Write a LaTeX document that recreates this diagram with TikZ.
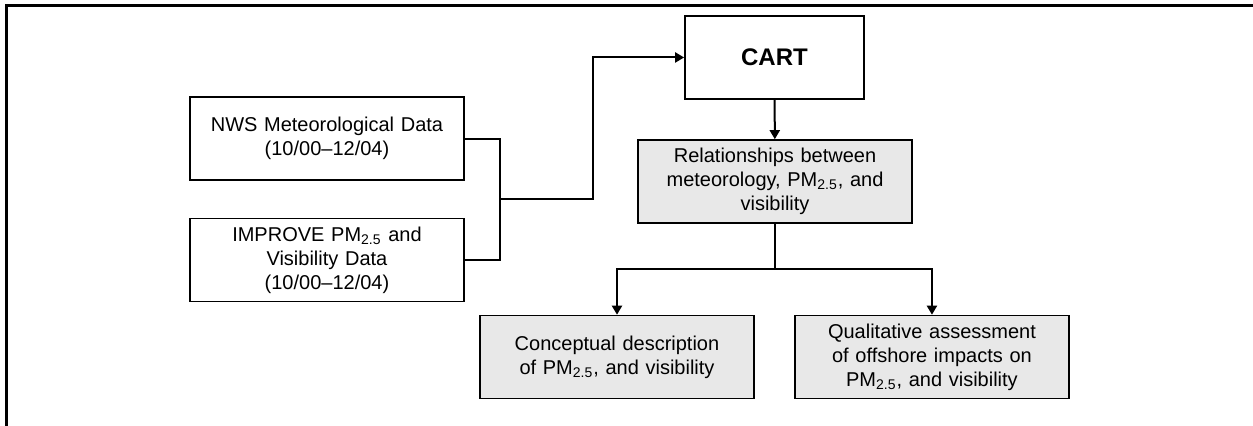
\documentclass[tikz,border=0pt]{standalone}
\usepackage{fontspec}
\setmainfont{Liberation Sans}
\usepackage{tikz}
\usetikzlibrary{arrows.meta,positioning,calc}
\newcommand{\pmtf}{PM\textsubscript{2.5}}

\begin{document}
\begin{tikzpicture}[
  font=\fontsize{10}{12}\selectfont,
  datab/.style={draw, line width=0.8pt, align=center, text width=4.6cm, minimum width=4.815cm, minimum height=1.459cm, inner sep=0pt},
  resb/.style={datab, fill=gray!18},
  link/.style={line width=1pt},
  arr/.style={line width=1pt, -{Triangle[length=4.5pt, width=5pt]}}]
  \useasboundingbox (0,0) rectangle (22.02,-7.486);
  % frame
  \draw[line width=1.3pt] (0.114,-7.6) -- (0.114,-0.097) -- (22.1,-0.097);
  % input data
  \node[datab] (nws) at (5.746,-2.434) {NWS Meteorological Data\\(10/00--12/04)};
  \node[datab] (imp) at (5.746,-4.569) {IMPROVE \pmtf{} and\\Visibility Data\\(10/00--12/04)};
  % CART and results
  \node[datab, text width=3cm, minimum width=3.146cm, font=\fontsize{12}{14}\selectfont\bfseries] (cart) at (13.61,-1.010) {CART};
  \node[resb] (rel) at (13.62,-3.19) {Relationships between\\meteorology, \pmtf, and\\visibility};
  \node[resb] (conc) at (10.843,-6.274) {Conceptual description\\of \pmtf, and visibility};
  \node[resb] (qual) at (16.378,-6.274) {Qualitative assessment\\of offshore impacts on\\\pmtf, and visibility};
  % connectors
  \coordinate (join) at (8.787,-3.497);
  \coordinate (rise) at (10.421,-3.497);
  \coordinate (split) at (13.62,-4.727);
  \draw[link] (nws.east) -| (join);
  \draw[link] (imp.east) -| (join);
  \draw[arr] (join) -- (rise) |- (cart.west);
  \draw[arr] (cart) -- (rel);
  \draw[link] (rel.south) -- (split);
  \draw[arr] (split) -| (conc.north);
  \draw[arr] (split) -| (qual.north);
\end{tikzpicture}
\end{document}
